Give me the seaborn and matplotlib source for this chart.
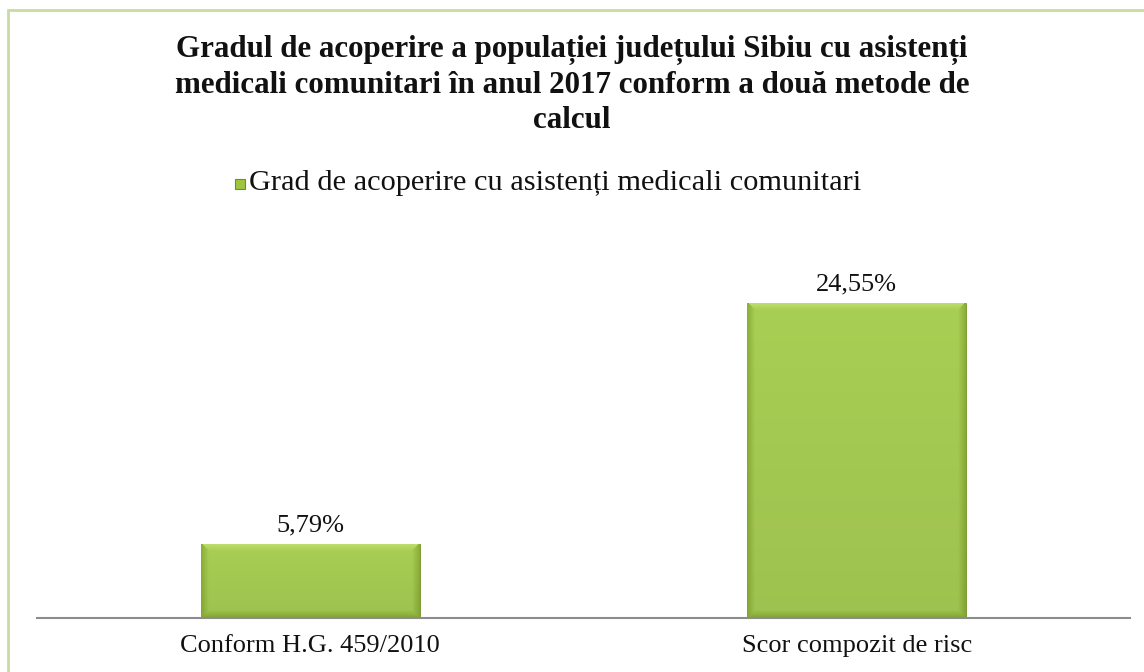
import numpy as np
import matplotlib
matplotlib.use('Agg')
import matplotlib.pyplot as plt
import seaborn as sns
from matplotlib.patches import Rectangle

# data
categories = ['Conform H.G. 459/2010', 'Scor compozit de risc']
values = [5.79, 24.55]
value_labels = ['5,79%', '24,55%']
series_name = 'Grad de acoperire cu asistenți medicali comunitari'
title = ('Gradul de acoperire a populației județului Sibiu cu asistenți\n'
         'medicali comunitari în anul 2017 conform a două metode de\ncalcul')

sns.set_theme(style='white')
plt.rcParams['font.family'] = ['Liberation Serif', 'DejaVu Serif']

fig = plt.figure(figsize=(11.44, 6.72), dpi=100)
W, H = 1144, 672

# light green chart border
fig.patches.append(Rectangle((8 / W, -0.1), 1.2, 1 - 10 / H + 0.1, transform=fig.transFigure,
                             fill=False, edgecolor='#c9dca0', linewidth=2))

ax = fig.add_axes([37 / W, (H - 618) / H, (1130 - 37) / W, (618 - 233) / H])
sns.barplot(x=categories, y=values, ax=ax, color='#9cc640', width=0.4,
            edgecolor='#6f8f25', linewidth=0.6, saturation=1)
ax.set_ylim(0, 30)
ax.set_xlim(-0.5, 1.5)


def bevel_image(nx, ny, b=8):
    # colour by distance to the nearest edge, lighter top edge, darker sides/bottom
    xx, yy = np.meshgrid(np.arange(nx) + 0.5, np.arange(ny) + 0.5)
    d_top = yy
    d_side = np.minimum(np.minimum(xx, nx - xx), ny - yy)
    inner = np.array([0.66, 0.81, 0.33])
    top = np.array([0.76, 0.88, 0.45])
    side = np.array([0.54, 0.68, 0.21])
    tb = np.clip(d_top / b, 0, 1)[..., None]
    sb = np.clip(d_side / b, 0, 1)[..., None]
    use_top = (d_top < d_side)[..., None]
    img = np.where(use_top, top * (1 - tb) + inner * tb, side * (1 - sb) + inner * sb)
    # soft vertical shading inside
    shade = 1 - 0.06 * (yy / ny)
    return np.clip(img * shade[..., None], 0, 1)


fig.canvas.draw()
for p in ax.patches:
    x0, y0 = p.get_x(), p.get_y()
    x1, y1 = x0 + p.get_width(), y0 + p.get_height()
    (px0, py0), (px1, py1) = ax.transData.transform([(x0, y0), (x1, y1)])
    nx, ny = max(int(round(px1 - px0)), 2), max(int(round(py1 - py0)), 2)
    im = ax.imshow(bevel_image(nx, ny), extent=[x0, x1, y0, y1], origin='upper',
                   aspect='auto', zorder=p.get_zorder() + 0.1, interpolation='bilinear')
    im.set_clip_path(p)

for i, (v, lab) in enumerate(zip(values, value_labels)):
    ax.text(i, v + 0.55, lab, ha='center', va='bottom', fontsize=19, color='#111111')

for s in ['top', 'right', 'left']:
    ax.spines[s].set_visible(False)
ax.spines['bottom'].set_color('#8c8c8c')
ax.spines['bottom'].set_linewidth(1.5)
ax.set_yticks([])
ax.tick_params(axis='x', length=0, labelsize=19, pad=12, colors='#111111')
ax.set_xlabel('')
ax.set_ylabel('')

fig.text(0.5, 1 - 85 / H, title, ha='center', va='center', fontsize=22.3,
         fontweight='bold', linespacing=1.28, color='#111111')

# legend
fig.patches.append(Rectangle((235 / W, 1 - 189 / H), 10 / W, 10 / H, transform=fig.transFigure,
                             facecolor='#9cc640', edgecolor='#6f8f25', linewidth=0.8))
fig.text(249 / W, 1 - 183 / H, series_name, ha='left', va='center', fontsize=21.9,
         color='#111111')

fig.savefig('out.png', dpi=100)
